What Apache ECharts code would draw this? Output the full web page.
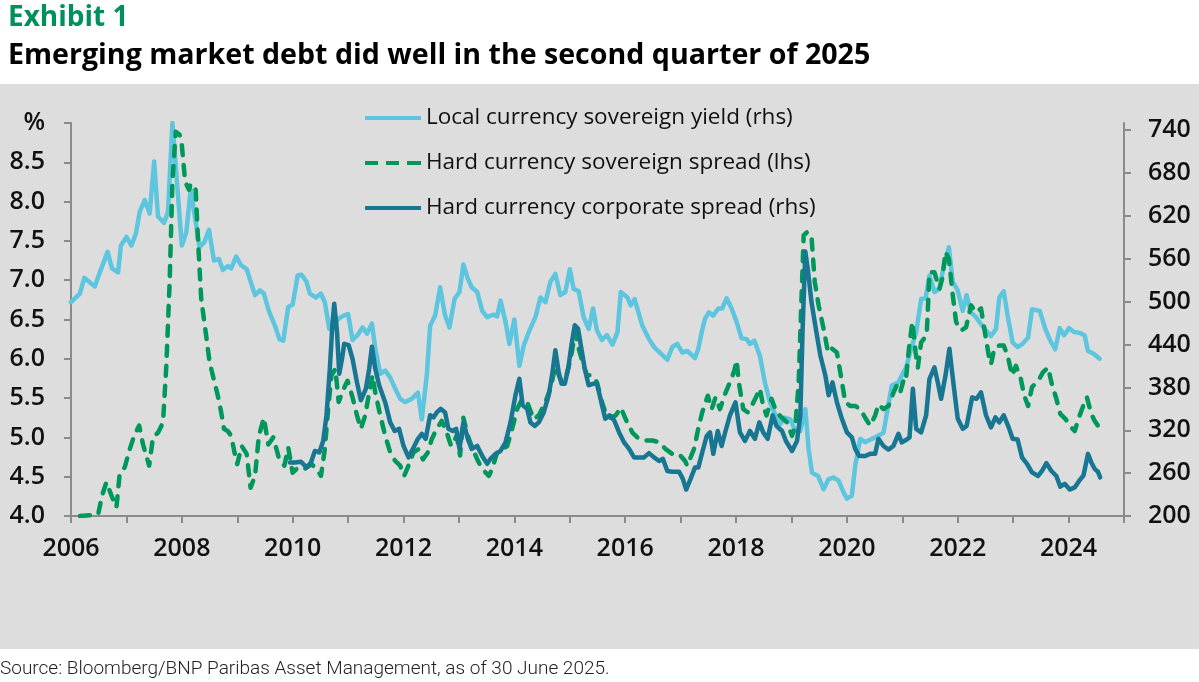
<!DOCTYPE html>
<html>
<head>
<meta charset="utf-8">
<script src="https://cdn.jsdelivr.net/npm/echarts@6/dist/echarts.min.js"></script>
<style>
html,body{margin:0;padding:0;background:#fff;}
#c{width:1199px;height:682px;}
</style>
</head>
<body>
<div id="c"></div>
<script>
// ---- Data ----
const seriesNames = [
  'Local currency sovereign yield (rhs)',
  'Hard currency sovereign spread (lhs)',
  'Hard currency corporate spread (rhs)'
];
const xTickYears = [2006, 2008, 2010, 2012, 2014, 2016, 2018, 2020, 2022, 2024];

// Local currency sovereign yield (%, plotted against left scale)
const lcyYears = [2006.00,2006.16,2006.24,2006.43,2006.52,2006.66,2006.74,2006.85,2006.90,2007.00,2007.09,2007.17,2007.24,2007.33,2007.42,2007.50,2007.57,2007.68,2007.75,2007.83,2008.00,2008.08,2008.16,2008.32,2008.41,2008.49,2008.58,2008.67,2008.74,2008.83,2008.89,2008.98,2009.07,2009.17,2009.32,2009.41,2009.48,2009.57,2009.68,2009.76,2009.83,2009.92,2010.00,2010.09,2010.16,2010.25,2010.31,2010.42,2010.51,2010.58,2010.66,2010.72,2010.83,2010.92,2011.00,2011.08,2011.17,2011.26,2011.34,2011.43,2011.49,2011.58,2011.67,2011.76,2011.85,2011.94,2012.03,2012.15,2012.26,2012.33,2012.42,2012.48,2012.57,2012.66,2012.75,2012.83,2012.92,2013.01,2013.08,2013.16,2013.23,2013.33,2013.42,2013.51,2013.57,2013.63,2013.69,2013.75,2013.84,2013.91,2014.00,2014.09,2014.17,2014.26,2014.38,2014.47,2014.56,2014.65,2014.74,2014.83,2014.92,2015.00,2015.07,2015.16,2015.25,2015.34,2015.42,2015.49,2015.58,2015.67,2015.77,2015.86,2015.92,2016.04,2016.10,2016.17,2016.31,2016.43,2016.52,2016.64,2016.76,2016.85,2016.94,2017.03,2017.12,2017.26,2017.32,2017.38,2017.44,2017.51,2017.59,2017.68,2017.75,2017.83,2017.92,2018.01,2018.10,2018.19,2018.25,2018.33,2018.43,2018.52,2018.61,2018.70,2018.80,2018.87,2018.98,2019.07,2019.16,2019.25,2019.31,2019.37,2019.48,2019.58,2019.67,2019.76,2019.85,2019.94,2020.00,2020.09,2020.15,2020.24,2020.33,2020.42,2020.51,2020.66,2020.81,2020.93,2021.02,2021.07,2021.16,2021.25,2021.34,2021.42,2021.49,2021.58,2021.67,2021.74,2021.84,2021.91,2022.00,2022.09,2022.16,2022.24,2022.33,2022.42,2022.51,2022.60,2022.69,2022.75,2022.83,2022.90,2022.99,2023.08,2023.17,2023.27,2023.34,2023.48,2023.58,2023.67,2023.76,2023.84,2023.92,2024.01,2024.10,2024.20,2024.29,2024.35,2024.44,2024.56];
const lcyValues = [6.72,6.83,7.03,6.92,7.10,7.36,7.15,7.10,7.44,7.55,7.44,7.59,7.87,8.02,7.85,8.51,7.81,7.73,7.87,9.00,7.44,7.61,8.15,7.42,7.49,7.64,7.25,7.27,7.13,7.18,7.15,7.30,7.19,7.14,6.81,6.87,6.83,6.61,6.42,6.25,6.23,6.66,6.69,7.06,7.07,6.98,6.83,6.78,6.83,6.72,6.38,6.42,6.51,6.55,6.57,6.24,6.30,6.40,6.32,6.45,6.13,5.81,5.85,5.76,5.62,5.49,5.45,5.49,5.57,5.23,5.79,6.42,6.55,6.91,6.55,6.40,6.76,6.85,7.20,7.02,6.91,6.85,6.61,6.53,6.55,6.56,6.54,6.74,6.47,6.19,6.50,5.91,6.17,6.34,6.53,6.78,6.72,6.98,7.08,6.81,6.85,7.14,6.89,6.86,6.53,6.38,6.64,6.36,6.24,6.30,6.18,6.34,6.85,6.78,6.68,6.76,6.42,6.25,6.15,6.07,5.99,6.15,6.19,6.08,6.10,6.01,6.13,6.34,6.51,6.59,6.55,6.64,6.64,6.77,6.64,6.47,6.26,6.25,6.19,6.23,6.04,5.70,5.45,5.30,5.17,5.25,5.23,5.08,5.08,5.36,4.85,4.55,4.51,4.34,4.47,4.49,4.45,4.30,4.22,4.26,4.64,4.98,4.94,4.97,5.00,5.06,5.66,5.70,5.83,5.89,6.13,6.34,6.76,6.77,7.06,6.85,6.89,7.15,7.42,6.98,6.87,6.61,6.81,6.59,6.53,6.44,6.36,6.29,6.38,6.78,6.86,6.55,6.21,6.15,6.19,6.27,6.63,6.61,6.38,6.23,6.12,6.39,6.30,6.39,6.34,6.33,6.30,6.10,6.07,6.00];

// Hard currency sovereign spread (left scale)
const hcsYears = [2006.16,2006.49,2006.56,2006.64,2006.73,2006.82,2006.88,2006.97,2007.06,2007.14,2007.23,2007.30,2007.41,2007.48,2007.57,2007.66,2007.72,2007.78,2007.83,2007.89,2007.96,2008.00,2008.06,2008.13,2008.16,2008.25,2008.29,2008.35,2008.43,2008.50,2008.59,2008.65,2008.71,2008.76,2008.83,2008.89,2008.95,2009.00,2009.08,2009.17,2009.24,2009.32,2009.39,2009.48,2009.56,2009.65,2009.75,2009.85,2009.92,2010.00,2010.10,2010.22,2010.34,2010.43,2010.51,2010.58,2010.64,2010.70,2010.77,2010.83,2010.92,2010.99,2011.08,2011.16,2011.23,2011.31,2011.38,2011.44,2011.49,2011.58,2011.67,2011.76,2011.85,2011.94,2012.01,2012.09,2012.18,2012.27,2012.35,2012.44,2012.51,2012.60,2012.69,2012.78,2012.86,2012.96,2013.02,2013.08,2013.16,2013.25,2013.33,2013.42,2013.54,2013.60,2013.69,2013.78,2013.87,2013.96,2014.05,2014.14,2014.23,2014.35,2014.44,2014.56,2014.65,2014.74,2014.83,2014.92,2015.01,2015.10,2015.16,2015.23,2015.31,2015.40,2015.49,2015.58,2015.66,2015.73,2015.83,2015.92,2016.01,2016.13,2016.25,2016.37,2016.49,2016.61,2016.73,2016.85,2016.97,2017.08,2017.12,2017.24,2017.33,2017.39,2017.49,2017.56,2017.63,2017.71,2017.80,2017.89,2017.97,2018.01,2018.05,2018.13,2018.21,2018.28,2018.36,2018.43,2018.49,2018.55,2018.64,2018.73,2018.83,2018.92,2019.01,2019.07,2019.13,2019.17,2019.22,2019.28,2019.36,2019.42,2019.49,2019.58,2019.66,2019.73,2019.82,2019.89,2019.97,2020.06,2020.15,2020.24,2020.33,2020.42,2020.51,2020.57,2020.66,2020.75,2020.84,2020.90,2020.96,2021.02,2021.06,2021.12,2021.18,2021.24,2021.28,2021.34,2021.44,2021.49,2021.58,2021.67,2021.72,2021.78,2021.84,2021.91,2021.97,2022.06,2022.15,2022.24,2022.33,2022.42,2022.48,2022.56,2022.60,2022.66,2022.75,2022.83,2022.90,2022.98,2023.05,2023.14,2023.20,2023.27,2023.34,2023.45,2023.54,2023.63,2023.69,2023.78,2023.85,2023.95,2024.02,2024.11,2024.20,2024.29,2024.33,2024.41,2024.47,2024.55];
const hcsValues = [4.00,4.02,4.26,4.43,4.26,4.11,4.55,4.62,4.85,5.02,5.15,4.91,4.64,5.00,5.06,5.19,5.91,6.98,8.25,8.89,8.85,8.72,8.25,8.15,8.23,8.15,7.53,6.76,6.34,5.96,5.70,5.53,5.32,5.11,5.08,5.02,4.81,4.66,4.89,4.79,4.36,4.51,5.02,5.25,4.91,5.00,4.74,4.64,4.87,4.55,4.62,4.60,4.66,4.60,4.51,4.85,5.36,5.79,5.87,5.45,5.62,5.72,5.51,5.28,5.11,5.28,5.57,5.79,5.57,5.28,5.02,4.81,4.70,4.64,4.51,4.64,4.81,4.85,4.72,4.81,4.98,5.11,5.21,5.06,4.89,5.02,4.77,5.25,5.02,4.85,4.72,4.60,4.51,4.60,4.81,4.85,4.89,5.11,5.36,5.49,5.45,5.23,5.28,5.45,5.62,5.91,5.74,5.74,5.98,6.34,6.13,5.96,5.79,5.79,5.70,5.45,5.28,5.25,5.28,5.38,5.23,5.06,4.98,4.96,4.96,4.94,4.85,4.79,4.79,4.70,4.64,4.85,5.15,5.32,5.53,5.36,5.51,5.36,5.55,5.70,5.85,5.98,5.70,5.36,5.32,5.40,5.51,5.62,5.40,5.28,5.49,5.32,5.25,5.19,5.02,5.15,5.70,6.55,7.57,7.61,7.57,6.98,6.68,6.38,6.08,6.13,6.08,5.79,5.45,5.40,5.40,5.36,5.25,5.15,5.28,5.42,5.36,5.40,5.57,5.66,5.57,5.72,5.70,6.13,6.47,6.08,5.89,6.21,6.30,7.10,7.10,6.89,7.02,7.36,7.27,6.81,6.47,6.36,6.40,6.68,6.59,6.64,6.38,6.04,5.93,6.13,6.17,6.17,6.04,5.79,5.91,5.74,5.53,5.40,5.64,5.72,5.83,5.89,5.70,5.49,5.30,5.23,5.15,5.08,5.28,5.45,5.51,5.30,5.21,5.13];

// Hard currency corporate spread (right scale, bp)
const hccYears = [2009.95,2010.04,2010.15,2010.25,2010.33,2010.40,2010.48,2010.55,2010.61,2010.67,2010.72,2010.75,2010.80,2010.84,2010.89,2010.93,2011.01,2011.08,2011.16,2011.23,2011.32,2011.38,2011.43,2011.49,2011.56,2011.67,2011.76,2011.84,2011.92,2012.00,2012.09,2012.17,2012.26,2012.33,2012.40,2012.48,2012.54,2012.60,2012.67,2012.75,2012.81,2012.89,2012.95,2013.01,2013.08,2013.16,2013.23,2013.33,2013.42,2013.51,2013.57,2013.66,2013.75,2013.84,2013.93,2014.02,2014.09,2014.15,2014.23,2014.29,2014.37,2014.44,2014.53,2014.62,2014.68,2014.74,2014.80,2014.85,2014.91,2014.97,2015.03,2015.09,2015.15,2015.21,2015.27,2015.34,2015.42,2015.49,2015.57,2015.64,2015.72,2015.80,2015.89,2015.98,2016.07,2016.16,2016.25,2016.34,2016.43,2016.52,2016.61,2016.68,2016.76,2016.85,2016.97,2017.04,2017.10,2017.18,2017.26,2017.32,2017.39,2017.47,2017.53,2017.59,2017.67,2017.74,2017.81,2017.89,2017.99,2018.07,2018.16,2018.25,2018.34,2018.42,2018.49,2018.57,2018.66,2018.73,2018.83,2018.90,2019.01,2019.10,2019.16,2019.20,2019.25,2019.30,2019.36,2019.44,2019.52,2019.61,2019.67,2019.74,2019.82,2019.91,2020.00,2020.09,2020.15,2020.22,2020.33,2020.42,2020.51,2020.57,2020.66,2020.75,2020.84,2020.93,2020.99,2021.08,2021.13,2021.19,2021.25,2021.34,2021.43,2021.49,2021.58,2021.64,2021.70,2021.78,2021.85,2021.92,2022.00,2022.09,2022.16,2022.26,2022.34,2022.42,2022.51,2022.60,2022.68,2022.75,2022.83,2022.92,2022.99,2023.08,2023.16,2023.25,2023.34,2023.45,2023.52,2023.60,2023.69,2023.78,2023.85,2023.93,2024.02,2024.11,2024.19,2024.27,2024.35,2024.41,2024.47,2024.53,2024.57];
const hccValues = [275,275,276,268,275,291,289,305,341,406,472,497,458,399,420,441,439,420,387,362,378,406,437,406,383,359,331,319,322,298,282,294,308,315,308,341,338,345,350,345,322,319,322,294,331,308,294,298,284,273,280,287,291,303,331,369,392,355,350,331,326,331,345,369,397,432,401,385,385,406,439,467,462,434,406,383,385,385,359,336,341,334,317,303,294,282,282,282,288,282,277,280,263,262,262,252,237,252,268,268,289,312,317,287,319,298,319,341,359,317,305,319,308,331,317,308,341,326,319,305,291,305,341,458,570,542,500,462,425,397,369,387,359,336,317,310,294,284,284,287,287,308,298,293,298,315,303,307,310,378,322,317,341,392,408,387,364,397,434,387,336,322,326,366,364,373,341,324,338,331,341,324,308,307,282,273,261,256,263,274,263,256,241,245,237,240,249,257,287,275,266,262,254];

function pairs(xs, ys) { return xs.map((x, i) => [x, ys[i]]); }

const chart = echarts.init(document.getElementById('c'), null, {renderer: 'canvas'});
const axisGray = '#8a8a8a';
const labelStyle = {fontSize: 25, color: '#111', fontFamily: 'Open Sans', fontWeight: 600};
const solidIcon = 'path://M0,0 H56 V4 H0 Z';
const dashIcon = 'path://M0,0 H13 V4 H0 Z M21,0 H34 V4 H21 Z M42,0 H56 V4 H42 Z';

chart.setOption({
  backgroundColor: '#ffffff',
  animation: false,
  textStyle: {fontFamily: 'Open Sans'},
  graphic: [
    {type: 'rect', z: -10, shape: {x: 0, y: 84, width: 1199, height: 565}, style: {fill: '#dddddd'}, silent: true},
    {type: 'text', left: 8, top: 4, style: {text: 'Exhibit 1', fill: '#00915a', font: 'bold 28px "Open Sans"'}},
    {type: 'text', left: 8, top: 41, style: {text: 'Emerging market debt did well in the second quarter of 2025', fill: '#000000', font: 'bold 28.6px "Open Sans"'}},
    {type: 'text', left: 0, top: 660, style: {text: 'Source: Bloomberg/BNP Paribas Asset Management, as of 30 June 2025.', fill: '#222222', font: '300 19px Roboto'}}
  ],
  legend: {
    orient: 'vertical',
    left: 360,
    top: 101,
    itemWidth: 56,
    itemHeight: 4,
    itemGap: 21,
    textStyle: {fontSize: 22.5, color: '#111', fontFamily: 'Open Sans', lineHeight: 24},
    data: [
      {name: seriesNames[0], icon: solidIcon},
      {name: seriesNames[1], icon: dashIcon},
      {name: seriesNames[2], icon: solidIcon}
    ]
  },
  grid: {left: 71, right: 75, top: 123, bottom: 166, outerBoundsMode: 'none'},
  xAxis: {
    type: 'value', min: 2006, max: 2025, interval: 1,
    axisLine: {show: true, lineStyle: {color: axisGray, width: 2}},
    axisTick: {show: true, length: 7, lineStyle: {color: axisGray, width: 2}},
    splitLine: {show: false},
    axisLabel: Object.assign({margin: 20,
      formatter: v => (xTickYears.indexOf(v) >= 0 ? String(v) : '')}, labelStyle)
  },
  yAxis: [
    {
      type: 'value', position: 'left', min: 4, max: 9, interval: 0.5,
      axisLine: {show: true, lineStyle: {color: axisGray, width: 2}},
      axisTick: {show: true, length: 7, lineStyle: {color: axisGray, width: 2}},
      splitLine: {show: false},
      axisLabel: Object.assign({margin: 26,
        formatter: v => (v === 9 ? '%' : v.toFixed(1))}, labelStyle)
    },
    {
      type: 'value', position: 'right', min: 200, max: 750, interval: 60,
      axisLine: {show: true, lineStyle: {color: axisGray, width: 2}},
      axisTick: {show: true, length: 7, lineStyle: {color: axisGray, width: 2}},
      splitLine: {show: false},
      axisLabel: Object.assign({margin: 24, showMaxLabel: false}, labelStyle)
    }
  ],
  series: [
    {
      name: seriesNames[0], type: 'line', yAxisIndex: 0, showSymbol: false, symbol: 'none',
      data: pairs(lcyYears, lcyValues), z: 2,
      lineStyle: {color: '#5ec5de', width: 4.5, join: 'round', cap: 'round'},
      itemStyle: {color: '#5ec5de'}
    },
    {
      name: seriesNames[1], type: 'line', yAxisIndex: 0, showSymbol: false, symbol: 'none',
      data: pairs(hcsYears, hcsValues), z: 3,
      lineStyle: {color: '#00975b', width: 4.5, type: [10, 10], cap: 'round', join: 'round'},
      itemStyle: {color: '#00975b'}
    },
    {
      name: seriesNames[2], type: 'line', yAxisIndex: 1, showSymbol: false, symbol: 'none',
      data: pairs(hccYears, hccValues), z: 4,
      lineStyle: {color: '#177691', width: 4.5, join: 'round', cap: 'round'},
      itemStyle: {color: '#177691'}
    }
  ]
});
</script>
</body>
</html>
